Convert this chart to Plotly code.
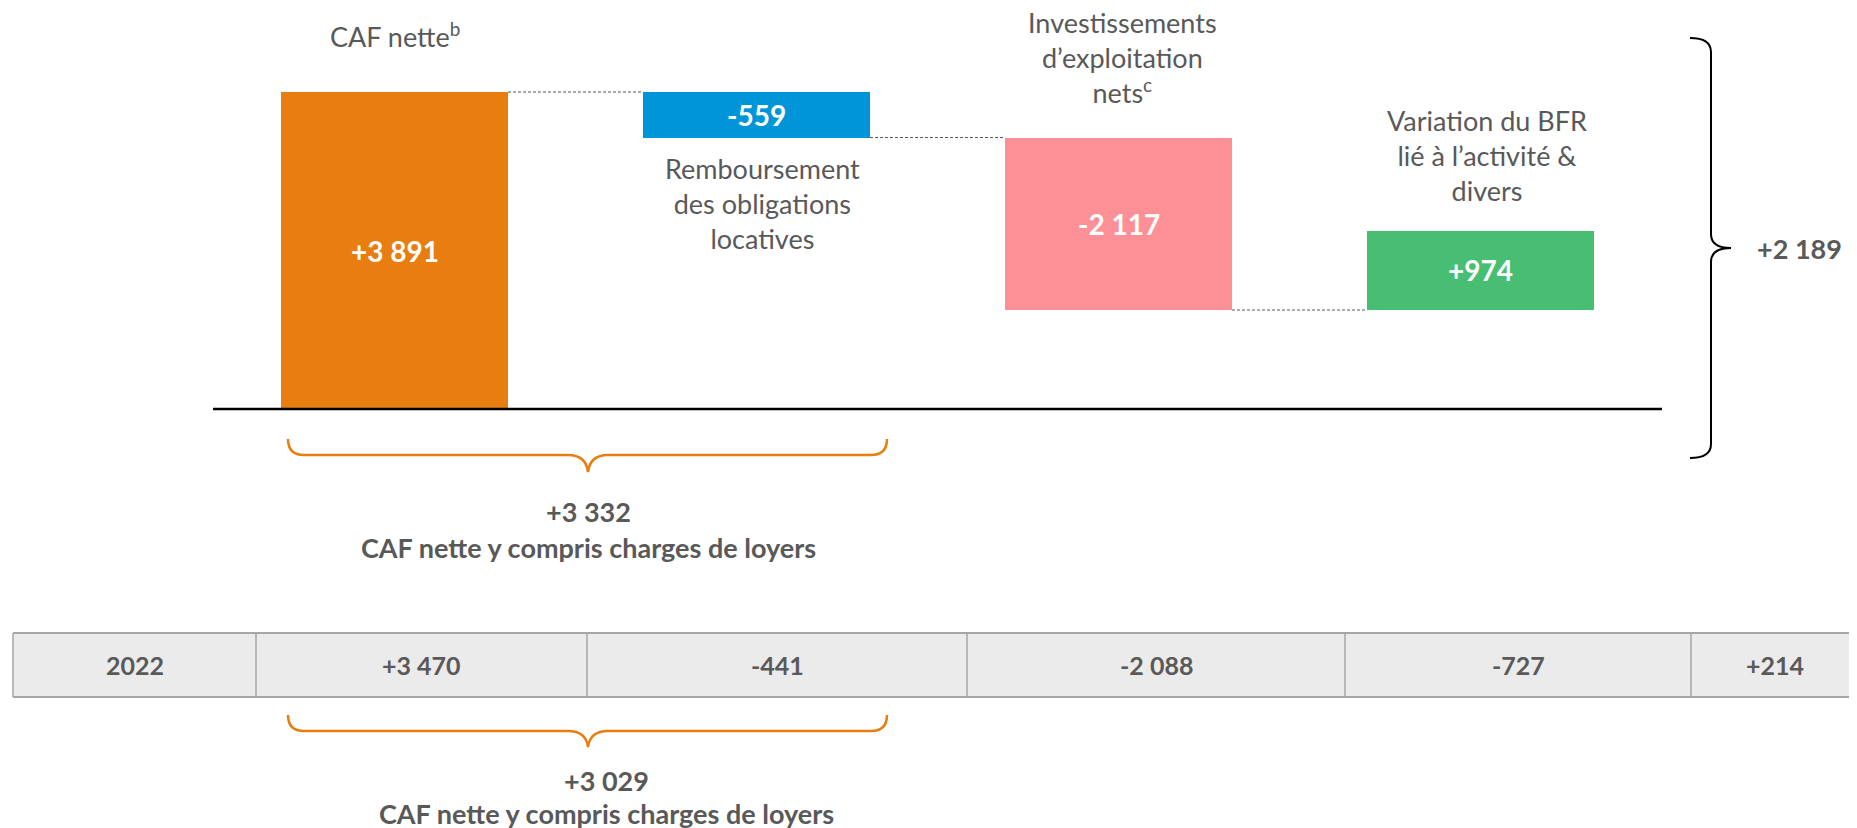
import plotly.graph_objects as go

# ---------------- data ----------------
categories = ["CAF nette<sup>b</sup>",
              "Remboursement<br>des obligations<br>locatives",
              "Investissements<br>d’exploitation<br>nets<sup>c</sup>",
              "Variation du BFR<br>lié à l’activité &amp;<br>divers"]
values_2023 = [3891, -559, -2117, 974]
bar_colors = ["#E87D10", "#0095D9", "#FD9096", "#48BE72"]
table_year = "2022"
values_2022 = [3470, -441, -2088, -727]
caption = "CAF nette y compris charges de loyers"

# ---------------- layout constants (pixels, in window coordinates) ----------------
W, H = 1857, 828
OFF = 8                      # default page margin around the plot div
FW, FH = W - OFF, H - OFF    # figure size
FONT = "Lato, 'Open Sans', sans-serif"
GRAY = "#595959"
X0_PX, STEP_PX, BAR_W_PX = 394.5, 362.0, 227.0
Y0_PX, PX_PER_UNIT = 409.0, 0.08147


def fmt(v):
    return f"{v:+,}".replace(",", " ")


def px(x):
    return (x - OFF) / FW


def py(y):
    return 1 - (y - OFF) / FH


# waterfall bases
bases, levels = [], []
run = 0
for v in values_2023:
    bases.append(run)
    run += v
    levels.append(run)
total_2023 = run
sub_2023 = values_2023[0] + values_2023[1]
total_2022 = sum(values_2022)
sub_2022 = values_2022[0] + values_2022[1]

xs = list(range(len(values_2023)))
bw = BAR_W_PX / STEP_PX

fig = go.Figure()
fig.add_trace(go.Bar(
    x=xs, y=values_2023, base=bases, width=bw,
    marker=dict(color=bar_colors, line=dict(width=0)),
    hoverinfo="skip", showlegend=False,
))

shapes = []
annotations = []

# connectors
for i in range(len(values_2023) - 1):
    shapes.append(dict(type="line", xref="x", yref="y",
                       x0=i + bw / 2, x1=i + 1 - bw / 2, y0=levels[i], y1=levels[i],
                       line=dict(color=GRAY, width=1, dash="3px,2px")))

# baseline
shapes.append(dict(type="line", xref="paper", yref="y", x0=px(213), x1=px(1662), y0=0, y1=0,
                   line=dict(color="black", width=2.5)))

# value labels in bars
for i, v in enumerate(values_2023):
    annotations.append(dict(x=i, y=bases[i] + v / 2, xref="x", yref="y",
                            text=f"<b>{fmt(v)}</b>", showarrow=False,
                            font=dict(family=FONT, size=28, color="white"),
                            xanchor="center", yanchor="middle"))

# category labels (edge value, y shift px, x shift px)
label_edge = [levels[0], levels[1], bases[2], levels[3]]
label_shift = [57, -66, 80, 75]
label_xshift = [0, 6, 4, 6]
for i, c in enumerate(categories):
    annotations.append(dict(x=i, y=label_edge[i], xref="x", yref="y",
                            yshift=label_shift[i], xshift=label_xshift[i],
                            text=c, showarrow=False,
                            font=dict(family=FONT, size=27, color=GRAY),
                            xanchor="center", yanchor="middle"))

# right brace + total
p = lambda x, y: f"{px(x):.6f},{py(y):.6f}"
rb = (f"M {p(1690,38)} Q {p(1711,38)} {p(1711,52)} L {p(1711,234)} "
      f"Q {p(1711,248)} {p(1731,248)} Q {p(1711,248)} {p(1711,262)} "
      f"L {p(1711,444)} Q {p(1711,458)} {p(1690,458)}")
shapes.append(dict(type="path", xref="paper", yref="paper", path=rb,
                   line=dict(color="black", width=2)))
annotations.append(dict(x=px(1799), y=py(248), xref="paper", yref="paper",
                        text=f"<b>{fmt(total_2023)}</b>", showarrow=False,
                        font=dict(family=FONT, size=27, color=GRAY),
                        xanchor="center", yanchor="middle"))


def hbrace(x0, x1, ytop, yflat, ytip, xc):
    r = 16
    return (f"M {p(x0,ytop)} Q {p(x0,yflat)} {p(x0+r,yflat)} L {p(xc-20,yflat)} "
            f"Q {p(xc-2,yflat)} {p(xc,ytip)} Q {p(xc+2,yflat)} {p(xc+20,yflat)} "
            f"L {p(x1-r,yflat)} Q {p(x1,yflat)} {p(x1,ytop)}")


ORANGE = "#E87D10"
shapes.append(dict(type="path", xref="paper", yref="paper",
                   path=hbrace(288, 887, 439, 455, 472, 588),
                   line=dict(color=ORANGE, width=2.5)))
shapes.append(dict(type="path", xref="paper", yref="paper",
                   path=hbrace(288, 887, 715, 731, 747, 588),
                   line=dict(color=ORANGE, width=2.5)))

for (xc, y1, y2, val) in [(588, 511, 547, sub_2023), (606, 780, 813, sub_2022)]:
    annotations.append(dict(x=px(xc), y=py(y1), xref="paper", yref="paper",
                            text=f"<b>{fmt(val)}</b>", showarrow=False,
                            font=dict(family=FONT, size=27, color=GRAY),
                            xanchor="center", yanchor="middle"))
    annotations.append(dict(x=px(xc), y=py(y2), xref="paper", yref="paper",
                            text=f"<b>{caption}</b>", showarrow=False,
                            font=dict(family=FONT, size=27, color=GRAY),
                            xanchor="center", yanchor="middle"))

# table row
T_TOP, T_BOT = 633, 697
col_edges = [13, 256, 587, 967, 1345, 1691, W + 2]
shapes.append(dict(type="rect", xref="paper", yref="paper",
                   x0=px(13), x1=1, y0=py(T_BOT), y1=py(T_TOP),
                   fillcolor="#EBEBEB", line=dict(width=0), layer="below"))
for yy in (T_TOP, T_BOT):
    shapes.append(dict(type="line", xref="paper", yref="paper",
                       x0=px(13), x1=1, y0=py(yy), y1=py(yy),
                       line=dict(color="#A6A6A6", width=2)))
for xx in col_edges[:-1]:
    shapes.append(dict(type="line", xref="paper", yref="paper",
                       x0=px(xx), x1=px(xx), y0=py(T_BOT), y1=py(T_TOP),
                       line=dict(color="#A6A6A6", width=1.5)))
cells = [table_year] + [fmt(v) for v in values_2022] + [fmt(total_2022)]
for k, t in enumerate(cells):
    xc = (col_edges[k] + col_edges[k + 1]) / 2
    annotations.append(dict(x=px(xc), y=py((T_TOP + T_BOT) / 2), xref="paper", yref="paper",
                            text=f"<b>{t}</b>", showarrow=False,
                            font=dict(family=FONT, size=25, color=GRAY),
                            xanchor="center", yanchor="middle"))

fig.update_layout(
    width=FW, height=FH,
    margin=dict(l=0, r=0, t=0, b=0),
    paper_bgcolor="white", plot_bgcolor="white",
    xaxis=dict(range=[-(X0_PX - OFF) / STEP_PX, (W - X0_PX) / STEP_PX], domain=[0, 1],
               visible=False, fixedrange=True),
    yaxis=dict(range=[-(H - Y0_PX) / PX_PER_UNIT, (Y0_PX - OFF) / PX_PER_UNIT], domain=[0, 1],
               visible=False, fixedrange=True),
    shapes=shapes, annotations=annotations,
    showlegend=False, bargap=0,
)

fig.write_html("out.html", config={"displayModeBar": False})
